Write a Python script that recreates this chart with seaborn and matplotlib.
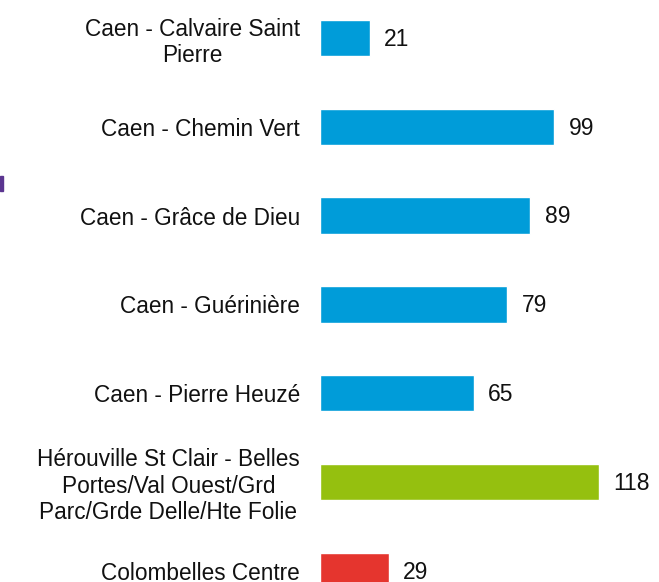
import matplotlib
matplotlib.use("Agg")
import matplotlib.pyplot as plt
import seaborn as sns
import pandas as pd
from matplotlib.patches import Rectangle

categories = [
    "Caen - Calvaire Saint\nPierre",
    "Caen - Chemin Vert",
    "Caen - Grâce de Dieu",
    "Caen - Guérinière",
    "Caen - Pierre Heuzé",
    "Hérouville St Clair - Belles\nPortes/Val Ouest/Grd\nParc/Grde Delle/Hte Folie",
    "Colombelles Centre",
]
values = [21, 99, 89, 79, 65, 118, 29]
colors = ["#009cd9", "#009cd9", "#009cd9", "#009cd9", "#009cd9", "#95c00f", "#e5352e"]

sns.set_theme(style="white")
plt.rcParams['font.family'] = ['Liberation Sans', 'DejaVu Sans']

df = pd.DataFrame({"cat": categories, "val": values})
W, H = 659, 582
fig = plt.figure(figsize=(W / 100, H / 100), dpi=100)
left = 320 / W
ax = fig.add_axes([left, 0, 1 - left, 1])

sns.barplot(data=df, x="val", y="cat", hue="cat", palette=dict(zip(categories, colors)),
            orient="h", width=0.41, legend=False, ax=ax, saturation=1)

step = 88.8
top_c = 38.0
ax.set_ylim((H - top_c) / step, -top_c / step)
ax.set_xlim(0, (W - 320) / 2.365)

for i, v in enumerate(values):
    ax.annotate(str(v), xy=(v, i), xytext=(10.5, -1.0), textcoords="offset points",
                ha="left", va="center", fontsize=16.5, color="#111111")

ax.set_xlabel("")
ax.set_ylabel("")
ax.set_xticks([])
ax.tick_params(axis="y", length=0, pad=14.5, labelsize=16.3, labelcolor="#111111")
for lbl in ax.get_yticklabels():
    lbl.set_multialignment("center")
    lbl.set_linespacing(1.18)
for s in ax.spines.values():
    s.set_visible(False)

# cropped fragment at left edge
fig.patches.append(Rectangle((0, 1 - 191 / H), 3 / W, 15 / H, transform=fig.transFigure,
                             color="#5b3590", zorder=5))

fig.savefig("out.png", dpi=100)
